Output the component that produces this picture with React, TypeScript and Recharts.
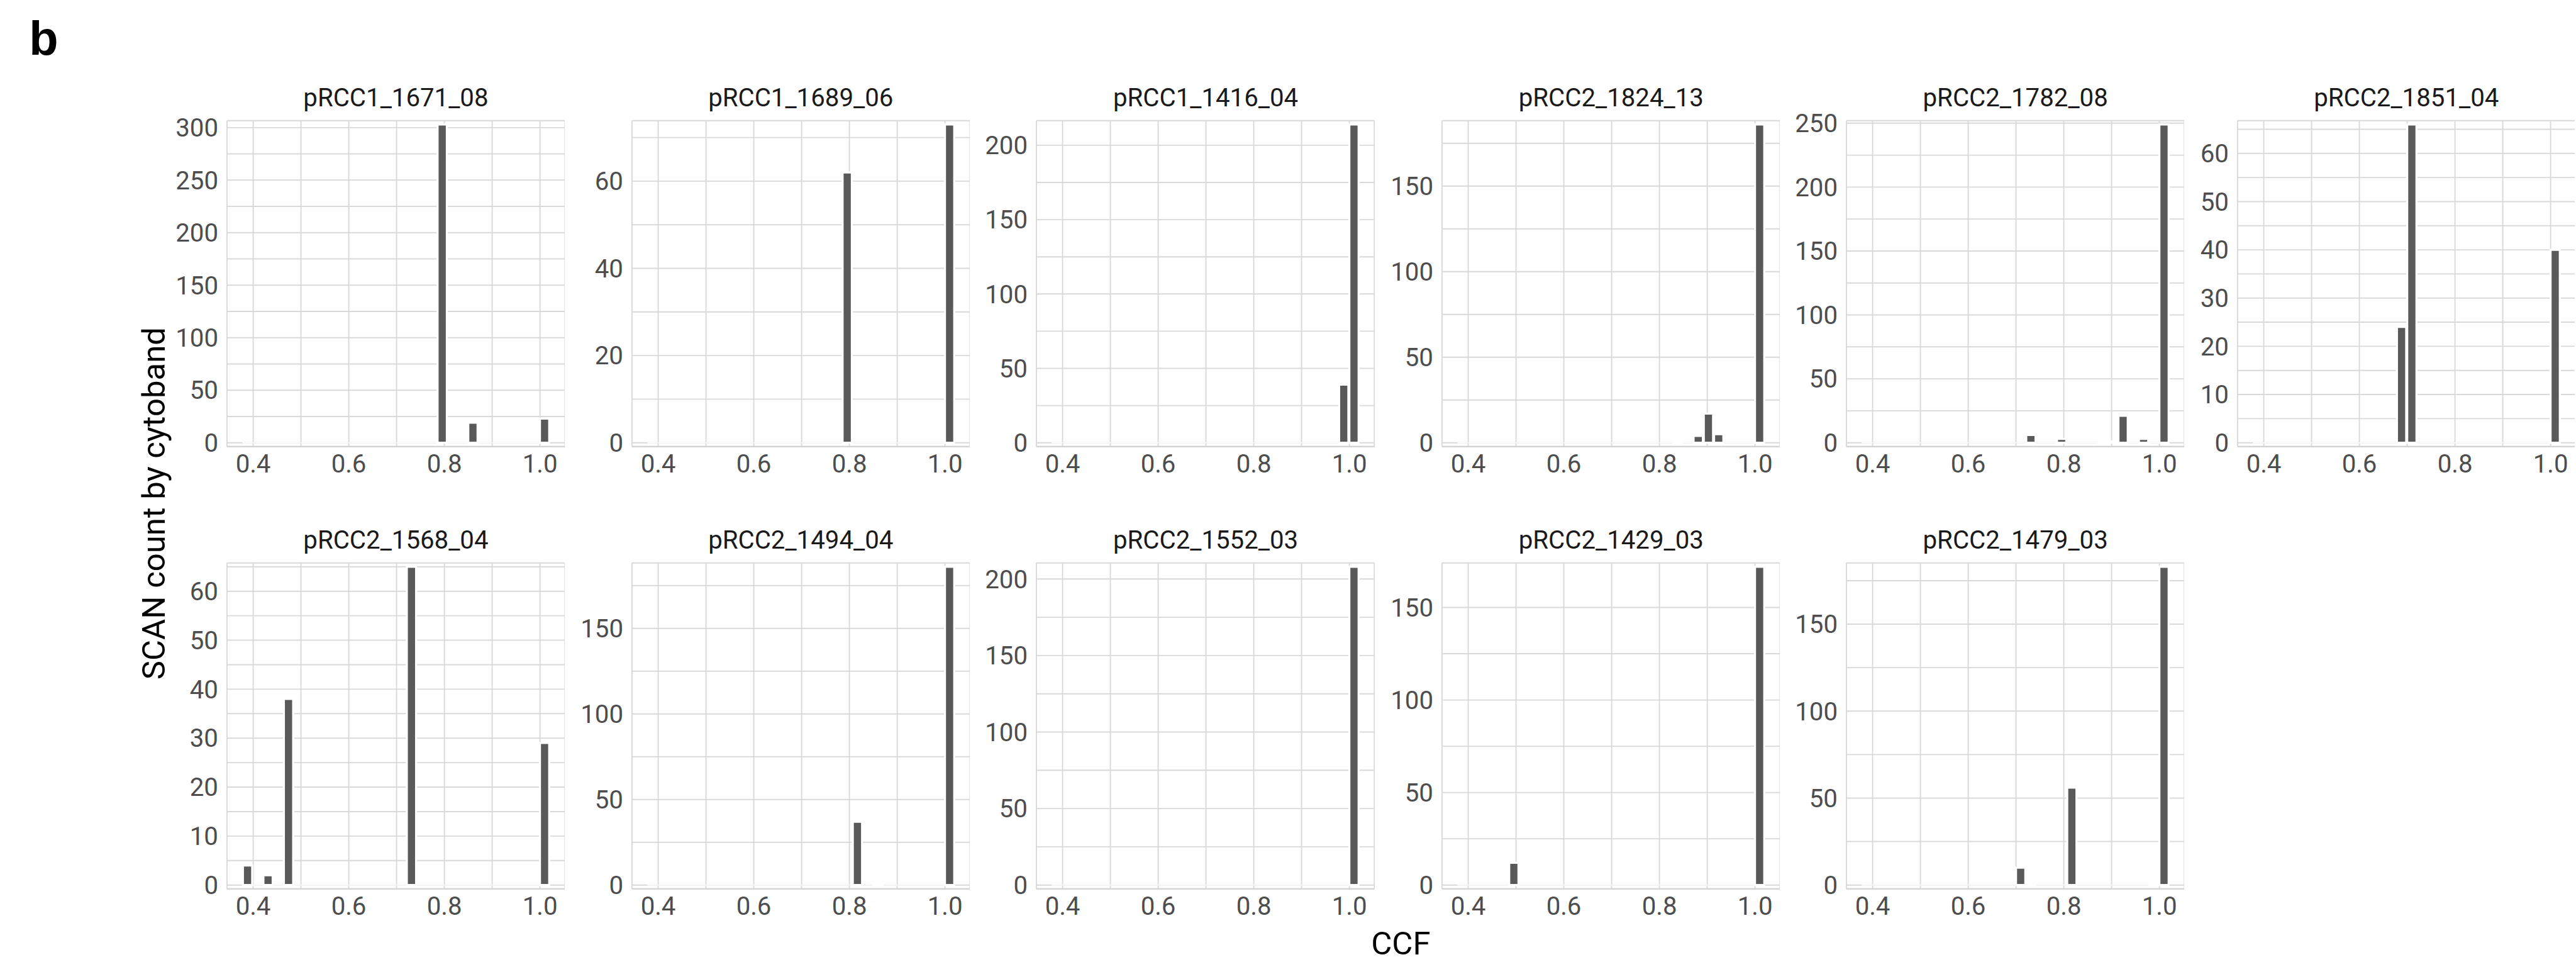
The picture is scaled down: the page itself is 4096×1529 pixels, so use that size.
import React from 'react';
import { BarChart, Bar, XAxis, YAxis, CartesianGrid, ReferenceLine } from 'recharts';

// everything is laid out in reference pixels and drawn at this scale
const S = 0.925;

const panelNames = [
  'pRCC1_1671_08', 'pRCC1_1689_06', 'pRCC1_1416_04', 'pRCC2_1824_13', 'pRCC2_1782_08', 'pRCC2_1851_04',
  'pRCC2_1568_04', 'pRCC2_1494_04', 'pRCC2_1552_03', 'pRCC2_1429_03', 'pRCC2_1479_03',
];

// 30 histogram bins (centres) shared by all panels
const binCenters = [
  0.3880, 0.4094, 0.4309, 0.4523, 0.4737, 0.4952, 0.5166, 0.5380, 0.5594, 0.5809,
  0.6023, 0.6237, 0.6452, 0.6666, 0.6880, 0.7095, 0.7309, 0.7523, 0.7737, 0.7952,
  0.8166, 0.8380, 0.8595, 0.8809, 0.9023, 0.9238, 0.9452, 0.9666, 0.9880, 1.0094,
];

// SCAN counts per bin, one array per sample
const pRCC1_1671_08 = [0,0,0,0,0,0,0,0,0,0, 0,0,0,0,0,0,0,0,0,303, 0,0,19,0,0,0,0,0,0,23];
const pRCC1_1689_06 = [0,0,0,0,0,0,0,0,0,0, 0,0,0,0,0,0,0,0,0,62, 0,0,0,0,0,0,0,0,0,73];
const pRCC1_1416_04 = [0,0,0,0,0,0,0,0,0,0, 0,0,0,0,0,0,0,0,0,0, 0,0,0,0,0,0,0,0,39,214];
const pRCC2_1824_13 = [0,0,0,0,0,0,0,0,0,0, 0,0,0,0,0,0,0,0,0,0, 0,1,0,4,17,5,0,0,0,186];
const pRCC2_1782_08 = [0,0,0,0,0,0,0,0,0,0, 0,0,0,0,0,0,6,0,0,3, 0,0,0,1,1,21,0,3,0,249];
const pRCC2_1851_04 = [0,0,0,0,0,0,0,0,0,0, 0,0,0,0,24,66,0,0,0,0, 0,0,0,0,0,0,0,0,0,40];
const pRCC2_1568_04 = [4,0,2,0,38,0,0,0,0,0, 0,0,0,0,0,0,65,0,0,0, 0,0,0,0,0,0,0,0,0,29];
const pRCC2_1494_04 = [0,0,0,0,0,0,0,0,0,0, 0,0,0,0,0,0,0,0,0,0, 37,0,1,0,0,0,0,0,0,186];
const pRCC2_1552_03 = [0,0,0,0,0,0,0,0,0,0, 0,0,0,0,0,0,0,0,0,0, 0,0,0,0,0,0,0,0,0,208];
const pRCC2_1429_03 = [0,0,0,0,0,12,0,0,0,0, 0,0,0,0,0,0,0,0,0,0, 0,0,0,0,0,0,0,0,0,172];
const pRCC2_1479_03 = [0,0,0,0,0,0,0,0,0,0, 0,0,0,0,0,10,1,0,0,0, 56,0,0,0,0,0,0,0,1,183];

const panelCounts = [
  pRCC1_1671_08, pRCC1_1689_06, pRCC1_1416_04, pRCC2_1824_13, pRCC2_1782_08, pRCC2_1851_04,
  pRCC2_1568_04, pRCC2_1494_04, pRCC2_1552_03, pRCC2_1429_03, pRCC2_1479_03,
];

const yMajorTicks = [
  [0, 50, 100, 150, 200, 250, 300],
  [0, 20, 40, 60],
  [0, 50, 100, 150, 200],
  [0, 50, 100, 150],
  [0, 50, 100, 150, 200, 250],
  [0, 10, 20, 30, 40, 50, 60],
  [0, 10, 20, 30, 40, 50, 60],
  [0, 50, 100, 150],
  [0, 50, 100, 150, 200],
  [0, 50, 100, 150],
  [0, 50, 100, 150],
];

const xMajorTicks = [0.4, 0.6, 0.8, 1.0];
const xTickLabels = ['0.4', '0.6', '0.8', '1.0'];
const xMinorTicks = [0.5, 0.7, 0.9];

// layout, reference pixels
const colLeft = [390, 1086, 1782, 2479, 3174, 3846];
const rowTop = [207.6, 967.6];
const PANEL_W = 581;
const PANEL_H = 560;
const AXIS_W = 95;
const AXIS_H = 70;
const TOP_PAD = 30; // room for the top tick label

const TICK_FS = 43.5 * S;
const GRID = '#d9d9d9';
const BAR = '#595959';

// x scale: bins padded by 5% like the original
const binWidth = binCenters[1] - binCenters[0];
const binLo = binCenters[0] - binWidth / 2;
const binHi = binCenters[binCenters.length - 1] + binWidth / 2;
const xPad = (binHi - binLo) * 0.05;
const xDomain = [binLo - xPad, binHi + xPad];
const barPx = (binWidth / (xDomain[1] - xDomain[0])) * PANEL_W * S;

const XTick = (props: any) => {
  const { x, y, payload } = props;
  const i = xMajorTicks.indexOf(payload.value);
  if (i < 0) return null;
  return (
    <text x={x} y={y} dy="0.71em" textAnchor="middle" fill="#4d4d4d" fontSize={TICK_FS} fontFamily="Roboto">
      {xTickLabels[i]}
    </text>
  );
};

const makeYTick = (majors: number[]) => (props: any) => {
  const { x, y, payload } = props;
  if (majors.indexOf(payload.value) < 0) return null;
  return (
    <text x={x} y={y} dy="0.355em" textAnchor="end" fill="#4d4d4d" fontSize={TICK_FS} fontFamily="Roboto">
      {payload.value}
    </text>
  );
};

const Panel = ({ idx }: { idx: number }) => {
  const counts = panelCounts[idx];
  const majors = yMajorTicks[idx];
  const row = idx < 6 ? 0 : 1;
  const col = idx % 6;
  const max = Math.max(...counts);
  const yDomain = [-0.012 * max, 1.012 * max];
  const step = majors[1] - majors[0];
  const minors = majors.map((v) => v + step / 2).filter((v) => v <= yDomain[1]);
  const yTicks = [...majors, ...minors].sort((a, b) => a - b);
  const data = binCenters.map((x, k) => ({ x, n: counts[k] }));
  const YTick = makeYTick(majors);

  return (
    <div
      style={{
        position: 'absolute',
        left: (colLeft[col] - AXIS_W) * S,
        top: (rowTop[row] - TOP_PAD) * S,
      }}
    >
      <BarChart
        width={(AXIS_W + PANEL_W) * S}
        height={(TOP_PAD + PANEL_H + AXIS_H) * S}
        data={data}
        margin={{ top: TOP_PAD * S, right: 0, bottom: 0, left: 0 }}
        barCategoryGap={0}
      >
        <CartesianGrid stroke={GRID} strokeWidth={1.9} />
        <XAxis
          dataKey="x"
          type="number"
          domain={xDomain}
          allowDataOverflow
          ticks={[...xMajorTicks, ...xMinorTicks].sort((a, b) => a - b)}
          interval={0}
          height={AXIS_H * S}
          tickSize={0}
          tickMargin={14 * S}
          tick={XTick}
          axisLine={{ stroke: '#d2d2d2', strokeWidth: 1.9 }}
        />
        <YAxis
          type="number"
          domain={yDomain}
          allowDataOverflow
          ticks={yTicks}
          interval={0}
          width={AXIS_W * S}
          tickSize={0}
          tickMargin={15 * S}
          tick={YTick}
          axisLine={false}
        />
        <ReferenceLine
          segment={[{ x: binLo, y: 0 }, { x: binHi, y: 0 }]}
          stroke="#ffffff"
          strokeWidth={1.6}
        />
        <Bar dataKey="n" fill={BAR} stroke="#ffffff" strokeWidth={3.2} barSize={barPx} isAnimationActive={false} />
      </BarChart>
    </div>
  );
};

export default function App() {
  const W = 4426 * S;
  const H = 1652 * S;
  return (
    <div style={{ position: 'absolute', left: 0, top: 0, width: W, height: H, background: '#fff', overflow: 'hidden' }}>
      {panelNames.map((_, i) => (
        <Panel key={i} idx={i} />
      ))}
      <svg width={W} height={H} style={{ position: 'absolute', left: 0, top: 0, pointerEvents: 'none' }}>
        <text x={50 * S} y={94 * S} fontFamily="Liberation Sans, Arial, sans-serif" fontWeight="bold" fontSize={82 * S} fill="#000">
          b
        </text>
        {panelNames.map((name, i) => {
          const row = i < 6 ? 0 : 1;
          const col = i % 6;
          return (
            <text
              key={name}
              x={(colLeft[col] + PANEL_W / 2) * S}
              y={(rowTop[row] - 24.5) * S}
              textAnchor="middle"
              fontFamily="Roboto"
              fontSize={TICK_FS}
              fill="#1a1a1a"
            >
              {name}
            </text>
          );
        })}
        <text
          x={283 * S}
          y={865 * S}
          transform={`rotate(-90 ${283 * S} ${865 * S})`}
          textAnchor="middle"
          fontFamily="Roboto"
          fontSize={55 * S}
          fill="#000"
        >
          SCAN count by cytoband
        </text>
        <text x={2408 * S} y={1640 * S} textAnchor="middle" fontFamily="Roboto" fontSize={55 * S} fill="#000">
          CCF
        </text>
      </svg>
    </div>
  );
}
